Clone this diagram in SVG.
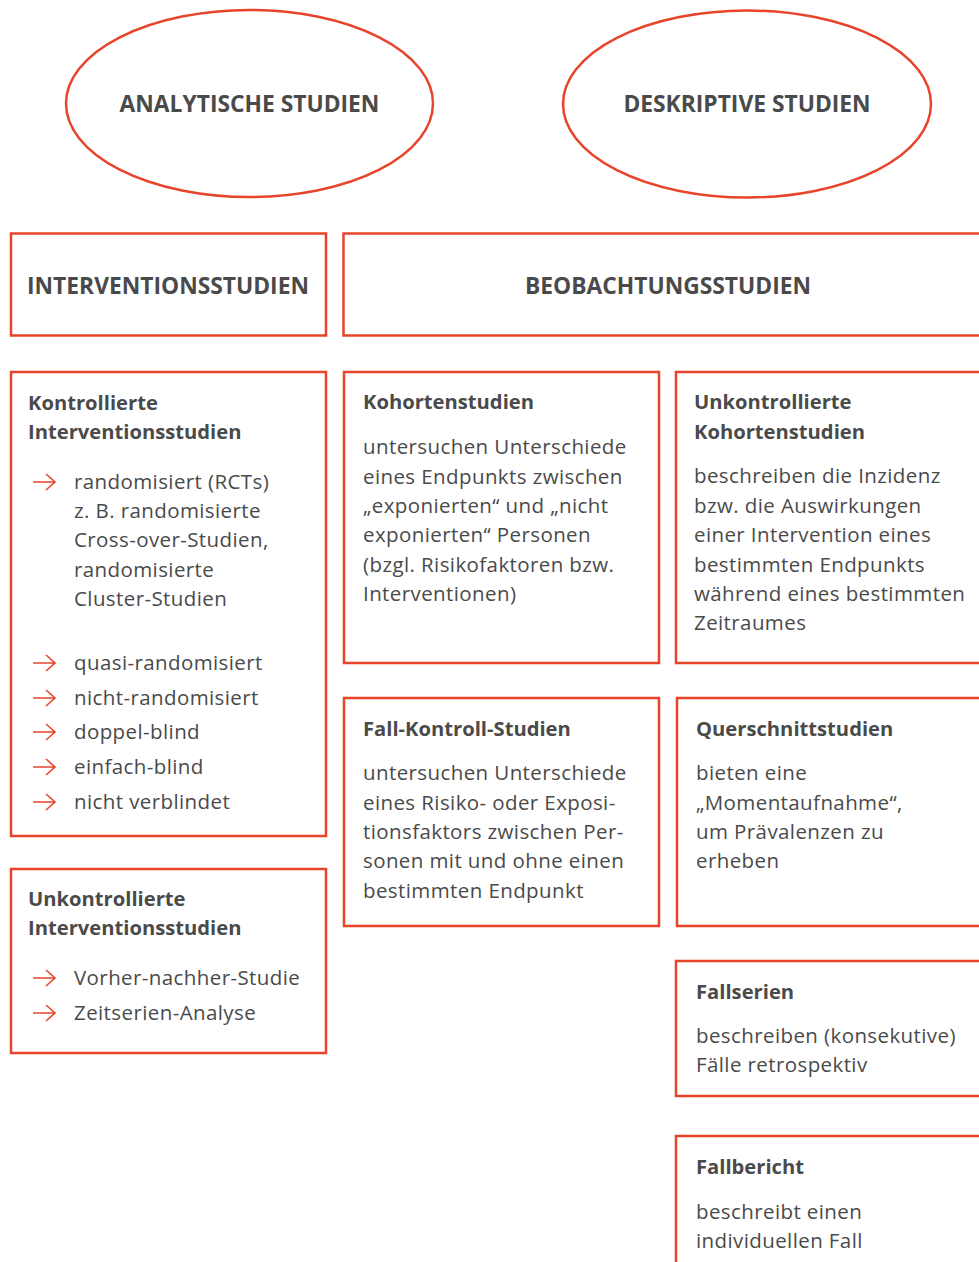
<svg xmlns="http://www.w3.org/2000/svg" width="979" height="1262" viewBox="0 0 979 1262">
<style>
.box{fill:#fff;stroke:#e8442b;stroke-width:2.5}
.t{font-family:"Open Sans","Noto Sans","Liberation Sans",sans-serif;fill:#4a4a4a;font-size:20.5px;letter-spacing:0.4px}
.b{font-weight:bold;font-size:20.2px;letter-spacing:0}
.h{font-family:"Open Sans","Noto Sans","Liberation Sans",sans-serif;fill:#4a4a4a;font-size:22.8px;font-weight:bold}
.arr{fill:none;stroke:#e8442b;stroke-width:1.6}
</style>
<defs>
<path id="a" class="arr" d="M0 0H22M13 -8L22 0L13 8"/>
</defs>
<rect width="979" height="1262" fill="#fff"/>
<g id="analytische">
<ellipse class="box" cx="249.5" cy="103.5" rx="183.5" ry="93.5"/>
<text class="h" x="249.5" y="112" text-anchor="middle">ANALYTISCHE STUDIEN</text>
</g>
<g id="deskriptive">
<ellipse class="box" cx="747" cy="104" rx="184" ry="93.5"/>
<text class="h" x="747" y="112" text-anchor="middle">DESKRIPTIVE STUDIEN</text>
</g>
<g id="interventionsstudien">
<rect class="box" x="11" y="233.5" width="315" height="102"/>
<text class="h" x="168" y="294" text-anchor="middle">INTERVENTIONSSTUDIEN</text>
</g>
<g id="beobachtungsstudien">
<rect class="box" x="343.5" y="233.5" width="650" height="102"/>
<text class="h" x="668" y="294" text-anchor="middle">BEOBACHTUNGSSTUDIEN</text>
</g>
<g id="kontrollierte">
<rect class="box" x="11" y="372" width="315" height="464"/>
<text class="t b" x="28" y="410">Kontrollierte</text>
<text class="t b" x="28" y="439">Interventionsstudien</text>
<use href="#a" x="33" y="482"/>
<text class="t" x="74" y="489">randomisiert (RCTs)</text>
<text class="t" x="74" y="518">z. B. randomisierte</text>
<text class="t" x="74" y="547">Cross-over-Studien,</text>
<text class="t" x="74" y="577">randomisierte</text>
<text class="t" x="74" y="606">Cluster-Studien</text>
<use href="#a" x="33" y="663"/>
<text class="t" x="74" y="670">quasi-randomisiert</text>
<use href="#a" x="33" y="698"/>
<text class="t" x="74" y="705">nicht-randomisiert</text>
<use href="#a" x="33" y="732"/>
<text class="t" x="74" y="739">doppel-blind</text>
<use href="#a" x="33" y="767"/>
<text class="t" x="74" y="774">einfach-blind</text>
<use href="#a" x="33" y="802"/>
<text class="t" x="74" y="809">nicht verblindet</text>
</g>
<g id="unkontrollierte-interventionsstudien">
<rect class="box" x="11" y="869" width="315" height="184"/>
<text class="t b" x="28" y="906">Unkontrollierte</text>
<text class="t b" x="28" y="935">Interventionsstudien</text>
<use href="#a" x="33" y="978"/>
<text class="t" x="74" y="985">Vorher-nachher-Studie</text>
<use href="#a" x="33" y="1013"/>
<text class="t" x="74" y="1020">Zeitserien-Analyse</text>
</g>
<g id="kohortenstudien">
<rect class="box" x="344" y="372" width="315" height="291"/>
<text class="t b" x="363" y="409">Kohortenstudien</text>
<text class="t" x="363" y="454">untersuchen Unterschiede</text>
<text class="t" x="363" y="484">eines Endpunkts zwischen</text>
<text class="t" x="363" y="513">„exponierten“ und „nicht</text>
<text class="t" x="363" y="542">exponierten“ Personen</text>
<text class="t" x="363" y="572">(bzgl. Risikofaktoren bzw.</text>
<text class="t" x="363" y="601">Interventionen)</text>
</g>
<g id="unkontrollierte-kohortenstudien">
<rect class="box" x="676" y="372" width="320" height="291"/>
<text class="t b" x="694" y="409">Unkontrollierte</text>
<text class="t b" x="694" y="439">Kohortenstudien</text>
<text class="t" x="694" y="483">beschreiben die Inzidenz</text>
<text class="t" x="694" y="513">bzw. die Auswirkungen</text>
<text class="t" x="694" y="542">einer Intervention eines</text>
<text class="t" x="694" y="572">bestimmten Endpunkts</text>
<text class="t" x="694" y="601">während eines bestimmten</text>
<text class="t" x="694" y="630">Zeitraumes</text>
</g>
<g id="fall-kontroll-studien">
<rect class="box" x="344" y="698" width="315" height="228"/>
<text class="t b" x="363" y="736">Fall-Kontroll-Studien</text>
<text class="t" x="363" y="780">untersuchen Unterschiede</text>
<text class="t" x="363" y="810">eines Risiko- oder Exposi-</text>
<text class="t" x="363" y="839">tionsfaktors zwischen Per-</text>
<text class="t" x="363" y="868">sonen mit und ohne einen</text>
<text class="t" x="363" y="898">bestimmten Endpunkt</text>
</g>
<g id="querschnittstudien">
<rect class="box" x="677" y="698" width="320" height="228"/>
<text class="t b" x="696" y="736">Querschnittstudien</text>
<text class="t" x="696" y="780">bieten eine</text>
<text class="t" x="696" y="810">„Momentaufnahme“,</text>
<text class="t" x="696" y="839">um Prävalenzen zu</text>
<text class="t" x="696" y="868">erheben</text>
</g>
<g id="fallserien">
<rect class="box" x="676" y="961" width="320" height="135"/>
<text class="t b" x="696" y="999">Fallserien</text>
<text class="t" x="696" y="1043">beschreiben (konsekutive)</text>
<text class="t" x="696" y="1072">Fälle retrospektiv</text>
</g>
<g id="fallbericht">
<rect class="box" x="676" y="1136" width="320" height="160"/>
<text class="t b" x="696" y="1174">Fallbericht</text>
<text class="t" x="696" y="1219">beschreibt einen</text>
<text class="t" x="696" y="1248">individuellen Fall</text>
</g>
<g id="connectors"></g>
</svg>
